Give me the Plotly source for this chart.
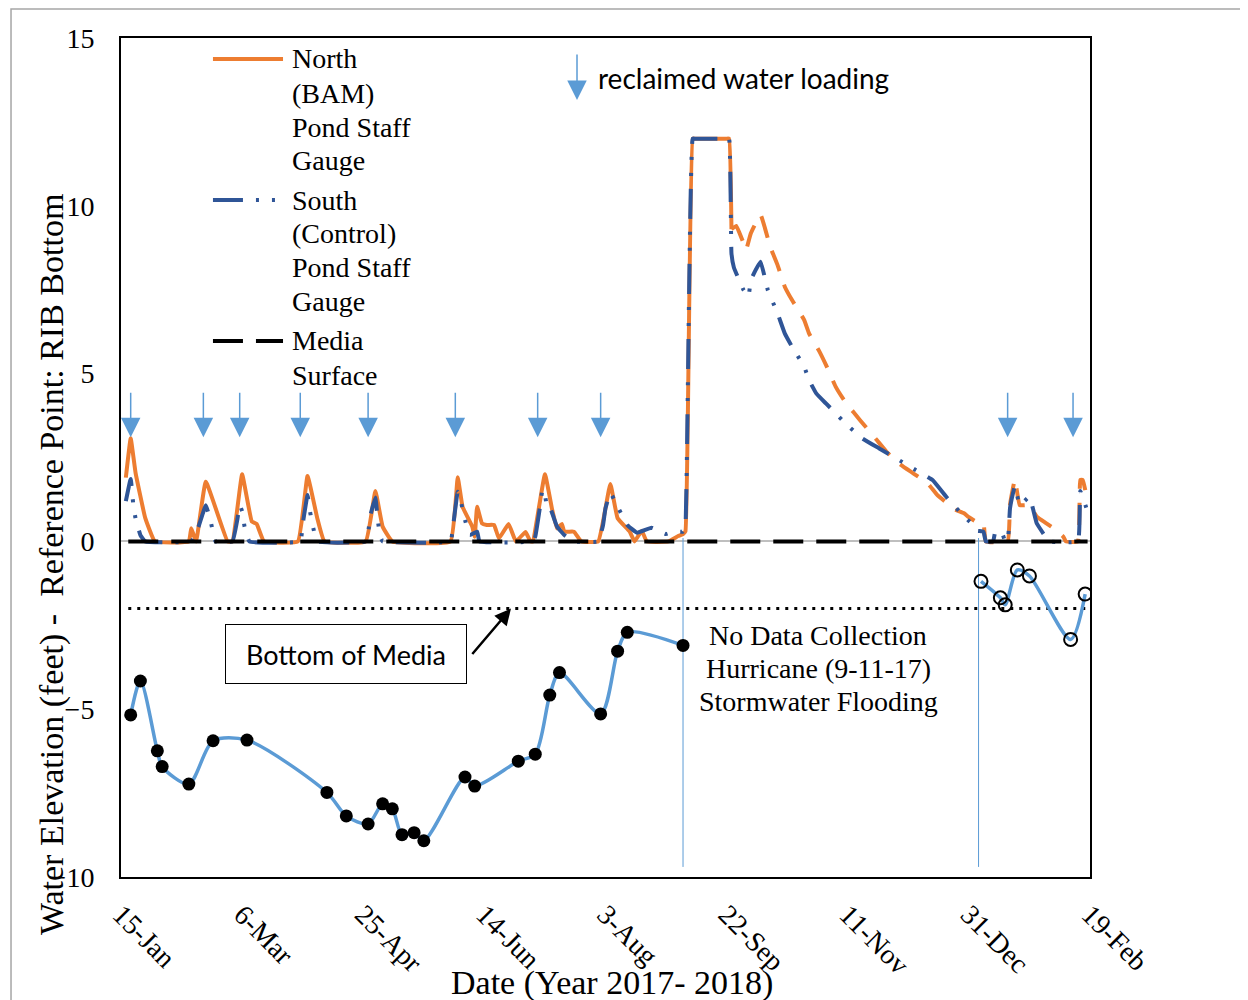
import plotly.graph_objects as go

# North (BAM) pond staff gauge, feet above RIB bottom (before the hurricane gap)
north_dates = ["2017-01-17", "2017-01-19", "2017-01-21", "2017-01-25", "2017-01-29",
               "2017-02-12", "2017-02-13", "2017-02-15", "2017-02-19", "2017-02-28",
               "2017-03-02", "2017-03-06", "2017-03-10", "2017-03-12", "2017-03-15",
               "2017-03-29", "2017-04-02", "2017-04-06", "2017-04-09",
               "2017-04-26", "2017-04-30", "2017-05-03", "2017-05-07",
               "2017-05-31", "2017-06-03", "2017-06-05", "2017-06-09", "2017-06-10",
               "2017-06-11", "2017-06-13", "2017-06-15", "2017-06-18", "2017-06-20",
               "2017-06-24", "2017-06-27", "2017-07-01", "2017-07-03",
               "2017-07-04", "2017-07-09", "2017-07-12", "2017-07-14", "2017-07-16",
               "2017-07-17", "2017-07-21", "2017-07-24",
               "2017-07-31", "2017-08-05", "2017-08-08", "2017-08-13", "2017-08-15",
               "2017-08-18", "2017-08-20", "2017-08-29", "2017-09-02", "2017-09-04",
               "2017-09-05", "2017-09-08", "2017-09-09", "2017-09-22", "2017-09-23",
               "2017-09-24"]
north_level = [1.9, 3.07, 2.05, 0.7, 0,
               0, 0.39, 0, 1.78, 0,
               0, 2.0, 0.59, 0.52, 0,
               0, 1.95, 0.7, 0,
               0, 1.5, 0.44, 0,
               0, 1.91, 1.03, 0.44, 0.14,
               1.03, 0.54, 0.49, 0.49, 0.09,
               0.52, 0, 0.28, 0,
               0, 2.0, 0.94, 0.39, 0.52,
               0.29, 0.29, 0,
               0, 1.71, 0.69, 0.29, 0,
               0.32, 0, 0, 0.16, 0.22,
               0.3, 12.0, 12.0, 12.0, 12.0,
               9.3]

# North record after the flooding (drawn dashed)
north_late_dates = ["2017-09-24", "2017-09-26", "2017-09-29", "2017-09-30", "2017-10-02",
                    "2017-10-06", "2017-10-10", "2017-10-13", "2017-10-16", "2017-10-19",
                    "2017-10-24", "2017-10-26", "2017-10-30", "2017-11-02", "2017-11-06",
                    "2017-11-09", "2017-11-11", "2017-11-16", "2017-11-23", "2017-11-27",
                    "2017-12-02", "2017-12-08", "2017-12-14", "2017-12-18", "2017-12-22",
                    "2017-12-25", "2017-12-29", "2017-12-31", "2018-01-03", "2018-01-06",
                    "2018-01-07", "2018-01-16", "2018-01-17", "2018-01-19", "2018-01-21",
                    "2018-01-25", "2018-01-28", "2018-02-01", "2018-02-05", "2018-02-08",
                    "2018-02-09", "2018-02-14", "2018-02-15", "2018-02-16", "2018-02-18"]
north_late_level = [9.3, 9.4, 8.88, 8.68, 9.18,
                    9.73, 8.78, 8.24, 7.59, 7.19,
                    6.6, 6.2, 5.7, 5.26, 4.61,
                    4.26, 4.06, 3.62, 3.02, 2.67,
                    2.33, 2.03, 1.73, 1.38, 1.14,
                    0.96, 0.84, 0.72, 0.59, 0.55,
                    0, 0, 1.1, 1.85, 1.08,
                    1.08, 0.74, 0.54, 0.34, 0.14,
                    0, 0, 1.83, 1.83, 1.2]

# South (Control) pond staff gauge
south_dates = ["2017-01-17", "2017-01-19", "2017-01-20", "2017-01-21", "2017-01-23", "2017-01-25",
               "2017-02-13", "2017-02-16", "2017-02-19", "2017-02-21", "2017-02-22", "2017-02-23",
               "2017-03-02", "2017-03-04", "2017-03-05", "2017-03-06", "2017-03-07", "2017-03-09",
               "2017-03-30", "2017-03-31", "2017-04-02", "2017-04-03", "2017-04-04", "2017-04-06",
               "2017-04-26", "2017-04-27", "2017-04-28", "2017-04-30", "2017-05-01", "2017-05-02",
               "2017-05-03",
               "2017-05-31", "2017-06-01", "2017-06-03", "2017-06-04", "2017-06-06", "2017-06-08",
               "2017-06-11", "2017-06-12",
               "2017-07-04", "2017-07-05", "2017-07-07", "2017-07-08", "2017-07-09", "2017-07-10",
               "2017-07-11", "2017-07-14", "2017-07-17", "2017-07-21",
               "2017-07-31", "2017-08-02", "2017-08-03", "2017-08-05", "2017-08-07", "2017-08-12",
               "2017-08-16", "2017-08-22", "2017-08-28", "2017-08-31", "2017-09-04", "2017-09-05",
               "2017-09-08", "2017-09-09", "2017-09-22", "2017-09-23", "2017-09-24",
               "2017-09-25", "2017-09-29", "2017-10-01", "2017-10-02", "2017-10-06", "2017-10-09",
               "2017-10-13", "2017-10-16", "2017-10-19", "2017-10-24", "2017-10-26", "2017-10-29",
               "2017-11-02", "2017-11-06", "2017-11-10", "2017-11-17", "2017-11-24", "2017-12-02",
               "2017-12-09", "2017-12-16", "2017-12-22", "2017-12-29", "2018-01-01", "2018-01-03",
               "2018-01-06", "2018-01-07", "2018-01-10", "2018-01-11", "2018-01-14", "2018-01-15",
               "2018-01-16", "2018-01-17", "2018-01-19", "2018-01-21", "2018-01-25", "2018-01-28",
               "2018-02-01", "2018-02-02", "2018-02-14", "2018-02-15", "2018-02-18"]
south_level = [1.2, 1.86, 1.15, 0.69, 0.19, 0,
               0, 0.44, 1.08, 0.6, 0.26, 0,
               0, 0.64, 1.08, 0.9, 0.44, 0,
               0, 0.51, 1.38, 0.9, 0.52, 0,
               0, 0.26, 0.79, 1.31, 0.64, 0.14,
               0,
               0, 0.4, 1.48, 1.28, 0.64, 0.19,
               0.29, 0,
               0, 0.14, 1.05, 1.55, 1.38, 1.0,
               1.02, 0.44, 0.19, 0,
               0, 0.49, 0.99, 1.45, 1.18, 0.49,
               0.26, 0.41, 0.22, 0.29, 0.29, 0.5,
               12.0, 12.0, 12.0, 12.0, 8.58,
               8.16, 7.49, 7.29, 7.79, 8.33, 7.49,
               6.8, 6.2, 5.8, 5.21, 4.81, 4.41,
               4.11, 3.82, 3.52, 3.07, 2.77, 2.43,
               2.13, 1.83, 1.3, 0.74, 0.54, 0.32,
               0.29, 0, 0, 0.32, 0.19, 0,
               0, 1.0, 1.65, 1.08, 1.33, 0.54,
               0.1, 0, 0, 1.5, 0.89]

# groundwater below the RIB (filled markers 2017, open markers 2018)
gw_dates = ["2017-01-19", "2017-01-23", "2017-01-30", "2017-02-01", "2017-02-12",
            "2017-02-22", "2017-03-08", "2017-04-10", "2017-04-18", "2017-04-27",
            "2017-05-03", "2017-05-07", "2017-05-11", "2017-05-16", "2017-05-20",
            "2017-06-06", "2017-06-10", "2017-06-28", "2017-07-05", "2017-07-11",
            "2017-07-15", "2017-08-01", "2017-08-08", "2017-08-12", "2017-09-04"]
gw_level = [-5.17, -4.16, -6.24, -6.71, -7.23,
            -5.94, -5.92, -7.48, -8.18, -8.42,
            -7.82, -7.97, -8.74, -8.68, -8.92,
            -7.02, -7.29, -6.55, -6.34, -4.58,
            -3.91, -5.14, -3.27, -2.71, -3.10]
gw_2018_dates = ["2018-01-05", "2018-01-13", "2018-01-15", "2018-01-20", "2018-01-25",
                 "2018-02-11", "2018-02-17"]
gw_2018_level = [-1.19, -1.68, -1.89, -0.85, -1.03, -2.92, -1.57]

# reclaimed water loading events
loading_dates = ["2017-01-19", "2017-02-18", "2017-03-05", "2017-03-30", "2017-04-27",
                 "2017-06-02", "2017-07-06", "2017-08-01", "2018-01-16", "2018-02-12"]

# start/end of the no-data period
gap_dates = ["2017-09-04", "2018-01-04"]

media_dates = ["2017-01-18", "2018-02-18"]
media_surface = [0, 0]
media_bottom = [-2, -2]

tick_dates = ["2017-01-15", "2017-03-06", "2017-04-25", "2017-06-14", "2017-08-03",
              "2017-09-22", "2017-11-11", "2017-12-31", "2018-02-19"]
tick_labels = ["15-Jan", "6-Mar", "25-Apr", "14-Jun", "3-Aug",
               "22-Sep", "11-Nov", "31-Dec", "19-Feb"]

ORANGE = "#ed7d31"
DARK_BLUE = "#2f5597"
LIGHT_BLUE = "#5b9bd5"
SERIF = "Liberation Serif"
SANS = "Lato"
SOUTH_DASH = "30px,13px,3px,13px,3px,13px"

fig = go.Figure()

# thin vertical lines marking the data gap
gap_x, gap_y = [], []
for d in gap_dates:
    gap_x += [d, d, None]
    gap_y += [0.1, -9.7, None]
fig.add_trace(go.Scatter(x=gap_x, y=gap_y, mode="lines",
                         line=dict(color=LIGHT_BLUE, width=1), showlegend=False))

fig.add_trace(go.Scatter(x=north_dates, y=north_level, mode="lines",
                         line=dict(color=ORANGE, width=4, shape="spline", smoothing=0.3),
                         showlegend=False))
fig.add_trace(go.Scatter(x=north_late_dates, y=north_late_level, mode="lines",
                         line=dict(color=ORANGE, width=4, dash="22px,14px",
                                   shape="spline", smoothing=0.3),
                         showlegend=False))
fig.add_trace(go.Scatter(x=south_dates, y=south_level, mode="lines",
                         line=dict(color=DARK_BLUE, width=4, dash=SOUTH_DASH,
                                   shape="spline", smoothing=0.3),
                         showlegend=False))
fig.add_trace(go.Scatter(x=media_dates, y=media_surface, mode="lines",
                         line=dict(color="black", width=4, dash="30px,13px"), showlegend=False))
fig.add_trace(go.Scatter(x=media_dates, y=media_bottom, mode="lines",
                         line=dict(color="black", width=3, dash="3px,6px"), showlegend=False))

fig.add_trace(go.Scatter(x=gw_dates, y=gw_level, mode="lines+markers",
                         line=dict(color=LIGHT_BLUE, width=3.5, shape="spline", smoothing=0.8),
                         marker=dict(color="black", size=13), showlegend=False))
fig.add_trace(go.Scatter(x=gw_2018_dates, y=gw_2018_level, mode="lines+markers",
                         line=dict(color=LIGHT_BLUE, width=3.5, shape="spline", smoothing=0.8),
                         marker=dict(symbol="circle-open", color="black", size=13,
                                     line=dict(width=2)),
                         showlegend=False))

# loading arrows
for d in loading_dates:
    fig.add_annotation(x=d, y=3.1, ax=0, ay=-46, text="", showarrow=True,
                       arrowhead=2, arrowsize=2.6, arrowwidth=1.5, arrowcolor=LIGHT_BLUE)

fig.add_annotation(x=0.4706, y=0.926, xref="paper", yref="paper", ax=0, ay=-47, text="",
                   showarrow=True, arrowhead=2, arrowsize=2.6, arrowwidth=1.5,
                   arrowcolor=LIGHT_BLUE)
fig.add_annotation(x=0.4902, y=0.9523, xref="paper", yref="paper",
                   xanchor="left", yanchor="middle",
                   text="reclaimed water loading", showarrow=False,
                   font=dict(family=SANS, size=28, color="black"))

# hand-drawn legend
legend_keys = [(0.975, ORANGE, "solid"), (0.8069, DARK_BLUE, SOUTH_DASH),
               (0.6389, "black", "30px,13px")]
for y, color, dash in legend_keys:
    fig.add_shape(type="line", xref="paper", yref="paper", x0=0.0949, x1=0.1672, y0=y, y1=y,
                  line=dict(color=color, width=4, dash=dash))
legend_lines = ["North", "(BAM)", "Pond Staff", "Gauge", "South", "(Control)",
                "Pond Staff", "Gauge", "Media", "Surface"]
legend_ys = [0.975, 0.9344, 0.8939, 0.8534, 0.8069, 0.7664, 0.7259, 0.6865, 0.6389, 0.5983]
for txt, y in zip(legend_lines, legend_ys):
    fig.add_annotation(x=0.1744, y=y, xref="paper", yref="paper",
                       xanchor="left", yanchor="middle",
                       text=txt, showarrow=False, font=dict(family=SERIF, size=28, color="black"))

# bottom of media callout
fig.add_annotation(x=0.2322, y=0.2658, xref="paper", yref="paper",
                   xanchor="center", yanchor="middle", text="Bottom of Media",
                   showarrow=False, width=236, height=54, borderpad=2, bordercolor="black",
                   borderwidth=1, bgcolor="white", font=dict(family=SANS, size=27, color="black"))
fig.add_annotation(x="2017-06-25", y=-2, ax=-40, ay=47, text="", showarrow=True,
                   arrowhead=2, arrowsize=1.3, arrowwidth=2.5, arrowcolor="black")

note_lines = ["No Data Collection", "Hurricane (9-11-17)", "Stormwater Flooding"]
note_ys = [0.2884, 0.2491, 0.2086]
for txt, y in zip(note_lines, note_ys):
    fig.add_annotation(x=0.7193, y=y, xref="paper", yref="paper",
                       xanchor="center", yanchor="middle", text=txt, showarrow=False,
                       font=dict(family=SERIF, size=28, color="black"))

# axis titles
fig.add_annotation(x=-0.0712, y=0.372, xref="paper", yref="paper", textangle=-90,
                   xanchor="center", yanchor="middle",
                   text="Water Elevation (feet) -  Reference Point: RIB Bottom", showarrow=False,
                   font=dict(family=SERIF, size=34, color="black"))
fig.add_annotation(x=0.5067, y=-0.1263, xref="paper", yref="paper",
                   xanchor="center", yanchor="middle",
                   text="Date (Year 2017- 2018)", showarrow=False,
                   font=dict(family=SERIF, size=34, color="black"))

# outer frame of the original figure
fig.add_shape(type="rect", xref="paper", yref="paper", x0=-0.1135, x1=1.17, y0=-0.155, y1=1.0346,
              line=dict(color="#a6a6a6", width=1.5))

fig.update_layout(
    width=1240, height=992,
    margin=dict(l=113, r=158, t=30, b=123),
    plot_bgcolor="white", paper_bgcolor="white",
    showlegend=False,
    xaxis=dict(type="date", range=["2017-01-15", "2018-02-19"],
               tickvals=tick_dates, ticktext=tick_labels, tickangle=45,
               tickfont=dict(family=SERIF, size=28, color="black"),
               showgrid=False, showline=True, linecolor="black", linewidth=2, mirror=True,
               ticks="", ticklabelstandoff=8),
    yaxis=dict(range=[-10, 15], tickvals=[-10, -5, 0, 5, 10, 15],
               tickfont=dict(family=SERIF, size=28, color="black"),
               showgrid=False, showline=True, linecolor="black", linewidth=2, mirror=True,
               zeroline=True, zerolinecolor="#bfbfbf", zerolinewidth=1.5,
               ticks="", ticklabelstandoff=19),
)

fig.write_html("out.html")
